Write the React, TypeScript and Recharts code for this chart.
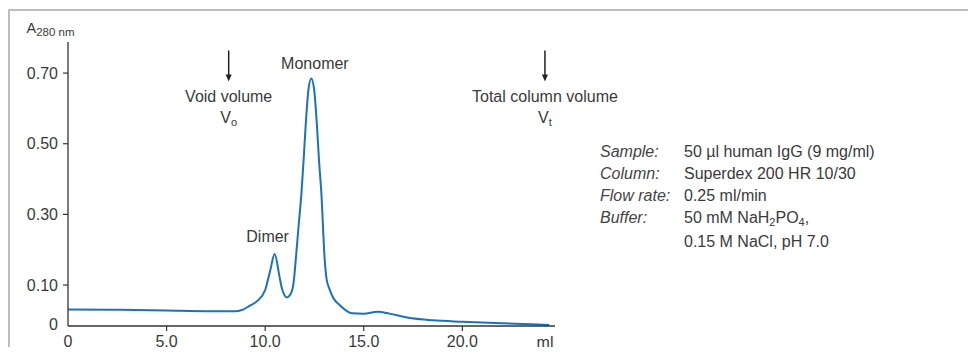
import { Line, LineChart, ReferenceDot, ReferenceLine, XAxis, YAxis } from "recharts";

const volume = [
  0, 2.5, 5.0, 7.0, 8.5, 8.9, 9.2, 9.6, 10.0, 10.26, 10.48, 10.73, 10.85, 11.1,
  11.3, 11.45, 11.55, 11.7, 11.84, 11.95, 12.05, 12.2, 12.34, 12.48, 12.63,
  12.73, 12.85, 13.02, 13.12, 13.24, 13.45, 13.8, 14.4, 15.0, 15.7, 16.3, 17.2,
  18.5, 20.0, 22.0, 24.4,
];
const absorbance = [
  0.031, 0.03, 0.028, 0.026, 0.026, 0.031, 0.041, 0.055, 0.086, 0.142, 0.188,
  0.123, 0.09, 0.065, 0.075, 0.11, 0.171, 0.27, 0.36, 0.454, 0.548, 0.655,
  0.685, 0.655, 0.548, 0.454, 0.36, 0.171, 0.115, 0.092, 0.064, 0.042, 0.02,
  0.019, 0.024, 0.019, 0.008, 0.0, -0.004, -0.008, -0.013,
];

const xTicks = [0, 5, 10, 15, 20];
const yTicks = [0, 0.1, 0.3, 0.5, 0.7];

const peakNames = ["Dimer", "Monomer"];
const peakVolumes = [10.48, 12.34];
const peakHeights = [0.188, 0.685];

const markerNames = ["Void volume", "Total column volume"];
const markerSubscripts = ["o", "t"];
const markerVolumes = [8.15, 24.19];
const arrowTop = 0.764;
const arrowBottom = 0.676;

const infoLabels = ["Sample:", "Column:", "Flow rate:", "Buffer:"];
const infoValues = ["50 µl human IgG (9 mg/ml)", "Superdex 200 HR 10/30", "0.25 ml/min"];

const data = volume.map((ml, i) => ({ ml, a: absorbance[i] }));

const font = '"Liberation Sans", Arial, sans-serif';
const textColor = "#3a3a3a";
const axisColor = "#333";

function YTick({ x, y, payload }: any) {
  const v = payload.value;
  return (
    <g>
      {v !== 0 && (
        <line x1={x + 5} x2={x + 10} y1={y} y2={y} stroke={axisColor} strokeWidth={1.2} />
      )}
      <text
        x={x}
        y={y}
        dy={v === 0 ? "0.62em" : "0.36em"}
        textAnchor="end"
        fill={textColor}
        fontSize={16}
        fontFamily={font}
      >
        {v === 0 ? "0" : v.toFixed(2)}
      </text>
    </g>
  );
}

function XTick({ x, y, payload }: any) {
  const v = payload.value;
  return (
    <g>
      {v !== 0 && (
        <line x1={x} x2={x} y1={y - 10} y2={y - 5} stroke={axisColor} strokeWidth={1.2} />
      )}
      <text
        x={x}
        y={y}
        dy="0.71em"
        textAnchor="middle"
        fill={textColor}
        fontSize={16}
        fontFamily={font}
      >
        {v === 0 ? "0" : v.toFixed(1)}
      </text>
    </g>
  );
}

function Arrow(name: string, sub: string) {
  return (props: any) => {
    const { x1, y1, y2 } = props;
    return (
      <g>
        <line x1={x1} x2={x1} y1={y1} y2={y2 - 6} stroke="#222" strokeWidth={1.5} />
        <polygon points={`${x1 - 3},${y2 - 7} ${x1 + 3},${y2 - 7} ${x1},${y2}`} fill="#222" />
        <text
          x={x1}
          y={y2 + 20}
          textAnchor="middle"
          fill={textColor}
          fontSize={16}
          fontFamily={font}
        >
          {name}
        </text>
        <text
          x={x1}
          y={y2 + 41}
          textAnchor="middle"
          fill={textColor}
          fontSize={16}
          fontFamily={font}
        >
          V<tspan fontSize={11} dy={3}>{sub}</tspan>
        </text>
      </g>
    );
  };
}

function PeakLabel(name: string, dx: number, dy: number) {
  return (props: any) => (
    <text
      x={props.cx + dx}
      y={props.cy + dy}
      textAnchor="middle"
      fill={textColor}
      fontSize={16}
      fontFamily={font}
    >
      {name}
    </text>
  );
}

const peakOffsets = [
  [-7, -11.5],
  [3.6, -9.3],
];

export default function App() {
  return (
    <div
      style={{
        position: "relative",
        margin: -8,
        width: 976,
        height: 355,
        overflow: "hidden",
        background: "#fff",
        fontFamily: font,
      }}
    >
      <div
        style={{
          position: "absolute",
          left: 8,
          top: 9,
          width: 964,
          height: 400,
          border: "2px solid #bdbdbd",
          boxSizing: "border-box",
        }}
      />
      <div style={{ position: "absolute", left: 0, top: 0 }}>
        <LineChart
          width={976}
          height={355}
          data={data}
          margin={{ top: 42, right: 421, bottom: 0, left: 0 }}
        >
          <XAxis
            dataKey="ml"
            type="number"
            domain={[0, 24.7]}
            ticks={xTicks}
            height={29}
            tickLine={false}
            tickSize={5}
            tickMargin={5}
            tick={<XTick />}
            axisLine={{ stroke: axisColor, strokeWidth: 1.3 }}
            allowDataOverflow
            label={({ viewBox }: any) => (
              <text
                x={viewBox.x + viewBox.width - 10}
                y={viewBox.y + 22}
                textAnchor="middle"
                fill={textColor}
                fontSize={16}
                fontFamily={font}
              >
                ml
              </text>
            )}
          />
          <YAxis
            type="number"
            domain={[-0.016, 0.788]}
            ticks={yTicks}
            width={68}
            tickLine={false}
            tickSize={5}
            tickMargin={5}
            tick={<YTick />}
            axisLine={{ stroke: axisColor, strokeWidth: 1.3 }}
            allowDataOverflow
            label={({ viewBox }: any) => (
              <text x={viewBox.x + 26.5} y={viewBox.y - 9} fill={textColor} fontFamily={font} fontSize={14.5}>
                A<tspan fontSize={11.5} dy={3}>280 nm</tspan>
              </text>
            )}
          />
          {markerVolumes.map((v, i) => (
            <ReferenceLine
              key={markerNames[i]}
              segment={[
                { x: v, y: arrowTop },
                { x: v, y: arrowBottom },
              ]}
              shape={Arrow(markerNames[i], markerSubscripts[i])}
            />
          ))}
          {peakVolumes.map((v, i) => (
            <ReferenceDot
              key={peakNames[i]}
              x={v}
              y={peakHeights[i]}
              r={0}
              shape={PeakLabel(peakNames[i], peakOffsets[i][0], peakOffsets[i][1])}
            />
          ))}
          <Line
            type="monotone"
            dataKey="a"
            stroke="#1a73b9"
            strokeWidth={2}
            dot={false}
            activeDot={false}
            isAnimationActive={false}
          />
        </LineChart>
      </div>
      <div
        style={{
          position: "absolute",
          left: 600,
          top: 141,
          fontSize: 16,
          color: textColor,
          lineHeight: "22px",
        }}
      >
        {infoLabels.map((label, i) => (
          <div key={label} style={{ display: "flex", height: i === 3 ? 42 : 22 }}>
            <span style={{ width: 84, fontStyle: "italic", color: "#444" }}>{label}</span>
            {i < 3 ? (
              <span>{infoValues[i]}</span>
            ) : (
              <span style={{ lineHeight: "19px", marginTop: 1 }}>
                50 mM NaH<span style={{ fontSize: 11, verticalAlign: -3 }}>2</span>PO
                <span style={{ fontSize: 11, verticalAlign: -3 }}>4</span>,
                <br />
                0.15 M NaCl, pH 7.0
              </span>
            )}
          </div>
        ))}
      </div>
    </div>
  );
}
